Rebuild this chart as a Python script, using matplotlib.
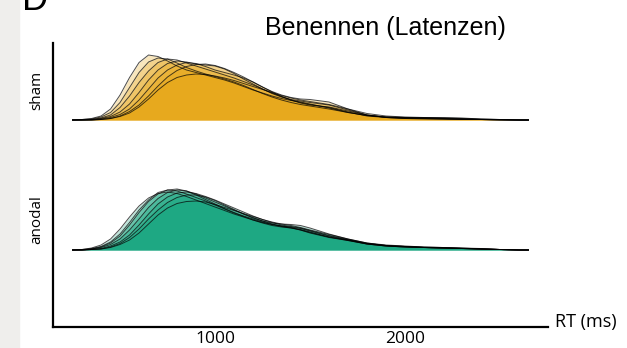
import matplotlib
matplotlib.use("Agg")
from matplotlib import pyplot as plt
from matplotlib.patches import Rectangle
import numpy as np

RT_GRID = list(range(250, 1501, 50)) + list(range(1600, 2601, 100)) + [2650]

# density per subject, 1/s
SHAM = [
    [0, 0.01, 0.03, 0.08, 0.22, 0.5, 0.85, 1.15, 1.3, 1.27, 1.18, 1.08, 1.0, 0.95, 0.9, 0.85, 0.8, 0.74, 0.67, 0.6,
     0.54, 0.48, 0.43, 0.39, 0.36, 0.32, 0.24, 0.15, 0.09, 0.06, 0.05, 0.04, 0.03, 0.02, 0.01, 0.01, 0, 0],
    [0, 0, 0.01, 0.04, 0.1, 0.25, 0.48, 0.75, 0.98, 1.15, 1.22, 1.2, 1.14, 1.08, 1.02, 0.96, 0.9, 0.84, 0.77, 0.7,
     0.62, 0.54, 0.47, 0.4, 0.35, 0.31, 0.25, 0.16, 0.08, 0.05, 0.04, 0.04, 0.03, 0.02, 0.01, 0, 0, 0],
    [0, 0, 0.01, 0.03, 0.07, 0.16, 0.32, 0.55, 0.8, 1.0, 1.13, 1.18, 1.16, 1.12, 1.1, 1.08, 1.02, 0.93, 0.82, 0.72,
     0.62, 0.53, 0.46, 0.41, 0.38, 0.35, 0.3, 0.2, 0.1, 0.05, 0.03, 0.03, 0.02, 0.02, 0.01, 0.01, 0, 0],
    [0, 0, 0, 0.02, 0.05, 0.11, 0.22, 0.4, 0.62, 0.84, 1.0, 1.1, 1.15, 1.13, 1.07, 1.0, 0.95, 0.9, 0.84, 0.76,
     0.66, 0.56, 0.47, 0.4, 0.34, 0.3, 0.26, 0.18, 0.1, 0.06, 0.05, 0.05, 0.04, 0.03, 0.02, 0.01, 0, 0],
    [0, 0, 0, 0.01, 0.03, 0.07, 0.14, 0.26, 0.42, 0.6, 0.75, 0.85, 0.9, 0.92, 0.91, 0.88, 0.84, 0.79, 0.73, 0.67,
     0.61, 0.55, 0.49, 0.44, 0.4, 0.37, 0.31, 0.22, 0.13, 0.08, 0.06, 0.05, 0.05, 0.04, 0.02, 0.01, 0, 0],
    [0, 0, 0, 0.01, 0.03, 0.08, 0.17, 0.3, 0.48, 0.68, 0.86, 0.99, 1.07, 1.11, 1.12, 1.09, 1.03, 0.95, 0.86, 0.76,
     0.66, 0.57, 0.5, 0.45, 0.42, 0.41, 0.36, 0.22, 0.1, 0.05, 0.03, 0.02, 0.02, 0.01, 0.01, 0, 0, 0],
    [0, 0.01, 0.02, 0.06, 0.15, 0.35, 0.65, 0.95, 1.16, 1.24, 1.22, 1.14, 1.05, 0.98, 0.92, 0.87, 0.82, 0.76, 0.69, 0.61,
     0.53, 0.46, 0.4, 0.35, 0.31, 0.28, 0.22, 0.15, 0.09, 0.06, 0.04, 0.03, 0.02, 0.01, 0.01, 0, 0, 0],
]

ANODAL = [
    [0, 0.01, 0.03, 0.07, 0.16, 0.32, 0.55, 0.8, 1.0, 1.15, 1.2, 1.18, 1.12, 1.05, 0.98, 0.9, 0.82, 0.74, 0.67, 0.6,
     0.54, 0.49, 0.46, 0.44, 0.41, 0.36, 0.26, 0.2, 0.13, 0.09, 0.07, 0.05, 0.04, 0.03, 0.02, 0.01, 0, 0],
    [0, 0, 0.02, 0.05, 0.11, 0.22, 0.4, 0.62, 0.85, 1.03, 1.15, 1.2, 1.18, 1.12, 1.04, 0.96, 0.88, 0.8, 0.72, 0.65,
     0.58, 0.52, 0.48, 0.46, 0.43, 0.38, 0.28, 0.2, 0.12, 0.08, 0.06, 0.05, 0.04, 0.03, 0.02, 0.01, 0, 0],
    [0, 0, 0.01, 0.03, 0.08, 0.16, 0.3, 0.5, 0.72, 0.92, 1.06, 1.14, 1.16, 1.13, 1.07, 1.0, 0.92, 0.84, 0.76, 0.68,
     0.61, 0.55, 0.5, 0.47, 0.44, 0.39, 0.29, 0.21, 0.13, 0.09, 0.07, 0.06, 0.05, 0.04, 0.02, 0.01, 0, 0],
    [0, 0, 0.01, 0.02, 0.05, 0.11, 0.2, 0.34, 0.52, 0.7, 0.84, 0.93, 0.97, 0.98, 0.96, 0.91, 0.85, 0.79, 0.73, 0.67,
     0.61, 0.56, 0.52, 0.49, 0.45, 0.4, 0.31, 0.22, 0.14, 0.1, 0.08, 0.06, 0.05, 0.04, 0.03, 0.01, 0, 0],
    [0, 0.01, 0.04, 0.1, 0.22, 0.42, 0.66, 0.88, 1.04, 1.13, 1.16, 1.13, 1.07, 1.0, 0.93, 0.86, 0.79, 0.72, 0.66, 0.6,
     0.55, 0.51, 0.48, 0.45, 0.4, 0.34, 0.25, 0.19, 0.12, 0.08, 0.06, 0.05, 0.04, 0.03, 0.02, 0.01, 0, 0],
    [0, 0, 0.01, 0.02, 0.06, 0.13, 0.25, 0.42, 0.62, 0.8, 0.95, 1.05, 1.1, 1.1, 1.06, 0.99, 0.9, 0.81, 0.72, 0.64,
     0.58, 0.54, 0.52, 0.51, 0.49, 0.44, 0.32, 0.22, 0.14, 0.09, 0.07, 0.05, 0.04, 0.03, 0.02, 0.01, 0, 0],
    [0, 0, 0.02, 0.06, 0.14, 0.28, 0.5, 0.75, 0.97, 1.12, 1.2, 1.22, 1.18, 1.1, 1.01, 0.92, 0.83, 0.75, 0.68, 0.62,
     0.56, 0.51, 0.47, 0.44, 0.4, 0.35, 0.26, 0.19, 0.12, 0.08, 0.06, 0.05, 0.04, 0.03, 0.02, 0.01, 0, 0],
]

CONDITIONS = ["anodal", "sham"]
COLORS = {"anodal": "#009E73", "sham": "#E69F00"}
X_TICKS = [1000, 2000]

W, H = 627, 348
SPACING = 2.6  # ridge spacing, density units


def draw_ridge(ax, base, curves, color):
    x = np.array(RT_GRID)
    for c in curves:
        y = base + np.array(c)
        ax.fill_between(x, base, y, color=color, alpha=0.26, lw=0)
        ax.plot(x, y, color="black", lw=0.7, alpha=0.7)


fig = plt.figure(figsize=(W / 100, H / 100), dpi=100)
fig.patches.append(Rectangle((0, 0), 19 / W, 1, transform=fig.transFigure,
                             color="#efeeec", zorder=-1))
ax = fig.add_axes([53 / W, 21 / H, 495 / W, 284 / H])

for i, (cond, curves) in enumerate(zip(CONDITIONS, [ANODAL, SHAM])):
    draw_ridge(ax, i * SPACING, curves, COLORS[cond])

ax.set_xlim(147, 2753)
ax.set_ylim(-1.54, SPACING + 1.54)

for s in ["top", "right"]:
    ax.spines[s].set_visible(False)
for s in ["left", "bottom"]:
    ax.spines[s].set_linewidth(1.6)

ax.set_xticks(X_TICKS)
ax.set_xticklabels([str(t) for t in X_TICKS], fontsize=12.5, family="Open Sans")
ax.set_yticks([i * SPACING + 0.6 for i in range(len(CONDITIONS))])
ax.set_yticklabels(CONDITIONS, rotation=90, va="center", fontsize=11, family="Open Sans")
ax.tick_params(axis="both", length=0)
ax.tick_params(axis="y", pad=6)
ax.tick_params(axis="x", pad=3)

fig.text(555 / W, 1 - 322 / H, "RT (ms)", fontsize=13, family="Open Sans",
         ha="left", va="center")
fig.text(385 / W, 1 - 28 / H, "Benennen (Latenzen)", fontsize=18,
         family="Liberation Sans", ha="center", va="center")
fig.text(22 / W, 1 - 10 / H, "D", fontsize=26, family="Liberation Sans",
         ha="left", va="baseline")

fig.savefig("out.png", dpi=100)
